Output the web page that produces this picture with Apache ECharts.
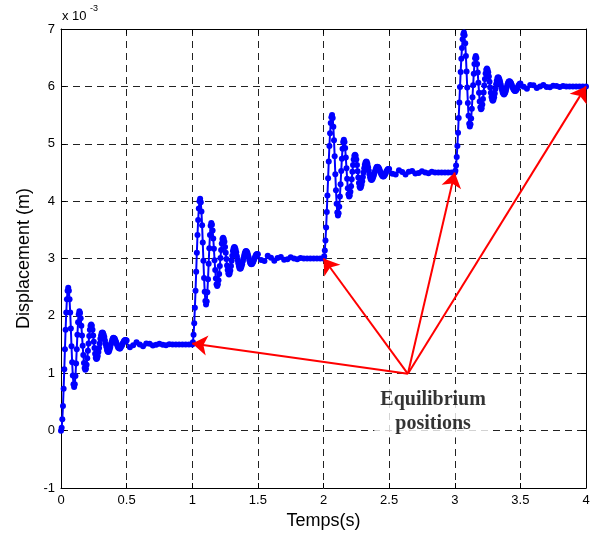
<!DOCTYPE html>
<html><head><meta charset="utf-8">
<script src="https://cdn.jsdelivr.net/npm/echarts@6/dist/echarts.min.js"></script>
<style>html,body{margin:0;padding:0;background:#fff}#c{width:602px;height:536px}</style>
</head><body><div id="c"></div>
<script>
// Displacement values in units of 1e-3 m.
// Each segment: fine samples every 0.005 s for the first 0.5 s, then tail samples every 0.025 s.
var segStarts = [0, 1, 2, 3];
var fineStep = 0.005;
var tailStep = 0.025;
var seg1Fine = [0,0.05,0.20,0.43,0.73,1.07,1.42,1.76,2.06,2.29,2.44,2.49,
2.44,2.29,2.06,1.78,1.47,1.19,0.96,0.81,0.76,
0.81,0.95,1.17,1.42,1.67,1.89,2.03,2.08,
2.05,1.96,1.83,1.66,1.48,1.32,1.18,1.09,1.06,
1.08,1.15,1.26,1.39,1.52,1.65,1.76,1.83,1.85,
1.83,1.76,1.66,1.55,1.44,1.34,1.27,1.25,
1.26,1.30,1.37,1.44,1.52,1.60,1.66,1.70,1.71,
1.70,1.67,1.63,1.57,1.51,1.46,1.41,1.38,1.37,
1.38,1.41,1.45,1.50,1.54,1.58,1.61,1.62,
1.61,1.60,1.57,1.54,1.51,1.48,1.45,1.44,1.43,
1.43,1.45,1.47,1.49,1.52,1.54,1.56,1.575,1.58,
1.575];
var seg1Tail = [1.57,1.455,1.487,1.54,1.50,1.47,1.517,1.514,1.482,1.497,1.515,1.496,1.49,1.505,1.50,1.50,1.50,1.50,1.50,1.50];
var seg2Fine = [1.5,1.54,1.67,1.87,2.14,2.44,2.77,3.10,3.41,3.67,3.87,4.00,4.04,
3.98,3.82,3.58,3.28,2.96,2.66,2.42,2.26,2.20,
2.25,2.41,2.64,2.91,3.18,3.41,3.57,3.62,
3.59,3.49,3.35,3.17,2.97,2.80,2.65,2.55,2.52,
2.55,2.62,2.73,2.87,3.01,3.15,3.26,3.34,3.36,
3.34,3.29,3.20,3.10,2.99,2.88,2.80,2.74,2.72,
2.74,2.79,2.87,2.96,3.05,3.13,3.18,3.20,
3.19,3.16,3.11,3.04,2.98,2.92,2.87,2.83,2.82,
2.83,2.86,2.90,2.95,3.00,3.05,3.09,3.12,3.13,
3.12,3.10,3.06,3.02,2.97,2.93,2.91,2.90,
2.905,2.92,2.945,2.975,3.005,3.035,3.06,3.075,3.08];
var seg2Tail = [3.075,2.975,2.956,3.046,3.013,2.96,3.008,3.024,2.98,2.989,3.02,3.0,2.987,3.01,3.0,3.0,3.0,3.0,3.0,3.0];
var seg3Fine = [3.0,3.04,3.14,3.315,3.54,3.81,4.10,4.40,4.69,4.96,5.185,5.36,5.46,5.50,
5.45,5.295,5.06,4.78,4.47,4.19,3.955,3.80,3.75,
3.79,3.90,4.08,4.295,4.525,4.74,4.915,5.03,5.07,
5.03,4.925,4.76,4.575,4.39,4.225,4.12,4.08,
4.10,4.165,4.26,4.38,4.51,4.63,4.725,4.79,4.81,
4.79,4.725,4.63,4.52,4.41,4.315,4.25,4.23,
4.245,4.285,4.345,4.42,4.50,4.575,4.635,4.675,4.69,
4.68,4.645,4.59,4.53,4.47,4.415,4.38,4.37,
4.375,4.395,4.43,4.465,4.505,4.54,4.57,4.595,4.60,
4.595,4.58,4.56,4.53,4.50,4.47,4.45,4.435,4.43,
4.435,4.45,4.47,4.495,4.52,4.54,4.555,4.56];
var seg3Tail = [4.558,4.478,4.463,4.537,4.509,4.465,4.51,4.524,4.481,4.489,4.52,4.5,4.487,4.51,4.5,4.5,4.5,4.5,4.5,4.5];
var seg4Fine = [4.5,4.53,4.62,4.77,4.96,5.19,5.45,5.72,5.99,6.25,6.48,6.67,6.82,6.91,6.94,
6.89,6.75,6.53,6.26,5.98,5.71,5.49,5.35,5.30,
5.34,5.44,5.61,5.81,6.02,6.22,6.39,6.49,6.53,
6.495,6.39,6.24,6.065,5.89,5.735,5.635,5.60,
5.62,5.685,5.78,5.895,6.015,6.13,6.225,6.29,6.31,
6.29,6.245,6.17,6.08,5.98,5.89,5.815,5.765,5.75,
5.765,5.81,5.875,5.955,6.035,6.10,6.145,6.16,
6.15,6.125,6.085,6.035,5.985,5.935,5.895,5.87,5.86,
5.87,5.895,5.93,5.975,6.02,6.055,6.08,6.09,
6.085,6.07,6.05,6.02,5.99,5.96,5.94,5.925,5.92,
5.925,5.94,5.96,5.985,6.01,6.03,6.045];
var seg4Tail = [6.05,5.994,5.958,6.023,6.019,5.972,5.998,6.023,5.989,5.985,6.013,6.005,5.99,6.005,6.0,6.0,6.0,6.0,6.0,6.0,6.0];

// Annotation arrows: common origin and equilibrium targets [t, y]
var arrowOrigin = [2.643, 0.99];
var arrowTargets = [[1.0, 1.52], [2.0, 3.0], [3.0, 4.5], [4.0, 6.0]];
var annotationPos = [2.835, 0.335];
var annotationText = 'Equilibrium\npositions';

var xTicks = {min: 0, max: 4, interval: 0.5};
var yTicks = {min: -1, max: 7, interval: 1};

var fines = [seg1Fine, seg2Fine, seg3Fine, seg4Fine];
var tails = [seg1Tail, seg2Tail, seg3Tail, seg4Tail];
var series1 = [];
for (var k = 0; k < 4; k++) {
  var s = segStarts[k];
  fines[k].forEach(function (v, i) { series1.push([+(s + i * fineStep).toFixed(4), v]); });
  tails[k].forEach(function (v, j) { series1.push([+(s + 0.5 + j * tailStep).toFixed(4), v]); });
}

var font = 'Liberation Sans, Arial, Helvetica, sans-serif';
var gridLine = {show: true, lineStyle: {color: '#222', type: [7, 5], width: 1}};
var chart = echarts.init(document.getElementById('c'), null, {renderer: 'canvas'});
chart.setOption({
  animation: false,
  backgroundColor: '#fff',
  grid: {left: 61, right: 16, top: 29, bottom: 48, outerBoundsMode: 'none', containLabel: false},
  xAxis: [{
    type: 'value', min: xTicks.min, max: xTicks.max, interval: xTicks.interval, position: 'bottom',
    axisLine: {show: true, onZero: false, lineStyle: {color: '#000', width: 1}},
    axisTick: {show: true, inside: true, length: 5, lineStyle: {color: '#000'}},
    axisLabel: {color: '#000', fontSize: 13, fontFamily: font, margin: 6},
    splitLine: gridLine,
    name: 'Temps(s)', nameLocation: 'middle', nameGap: 23,
    nameTextStyle: {fontSize: 18, color: '#000', fontFamily: font}
  }, {
    type: 'value', min: xTicks.min, max: xTicks.max, interval: xTicks.interval, position: 'top',
    axisLine: {show: true, onZero: false, lineStyle: {color: '#000', width: 1}},
    axisTick: {show: true, inside: true, length: 5, lineStyle: {color: '#000'}},
    axisLabel: {show: false}, splitLine: {show: false}
  }],
  yAxis: [{
    type: 'value', min: yTicks.min, max: yTicks.max, interval: yTicks.interval, position: 'left',
    axisLine: {show: true, onZero: false, lineStyle: {color: '#000', width: 1}},
    axisTick: {show: true, inside: true, length: 5, lineStyle: {color: '#000'}},
    axisLabel: {color: '#000', fontSize: 13, fontFamily: font, margin: 6},
    splitLine: gridLine,
    name: 'Displacement (m)', nameLocation: 'middle', nameGap: 28,
    nameTextStyle: {fontSize: 18, color: '#000', fontFamily: font}
  }, {
    type: 'value', min: yTicks.min, max: yTicks.max, interval: yTicks.interval, position: 'right',
    axisLine: {show: true, onZero: false, lineStyle: {color: '#000', width: 1}},
    axisTick: {show: true, inside: true, length: 5, lineStyle: {color: '#000'}},
    axisLabel: {show: false}, splitLine: {show: false}
  }],
  graphic: [
    {type: 'text', left: 62, top: 10, style: {text: 'x 10', fontSize: 13, fontFamily: font, fill: '#000'}},
    {type: 'text', left: 90, top: 4, style: {text: '-3', fontSize: 9, fontFamily: font, fill: '#000'}}
  ],
  series: [{
    type: 'line', xAxisIndex: 0, yAxisIndex: 0, data: series1,
    symbol: 'circle', symbolSize: 6, showSymbol: true, showAllSymbol: true,
    lineStyle: {color: '#0000ff', width: 2}, itemStyle: {color: '#0000ff'},
    silent: true, z: 3
  }, {
    type: 'line', xAxisIndex: 0, yAxisIndex: 0, data: [arrowOrigin], symbol: 'none',
    lineStyle: {width: 0}, itemStyle: {color: '#ff0000'}, silent: true, z: 4,
    markLine: {
      silent: true, symbol: ['none', 'arrow'], symbolSize: 15,
      lineStyle: {color: '#ff0000', width: 2, type: 'solid'},
      itemStyle: {color: '#ff0000'},
      label: {show: false},
      data: arrowTargets.map(function (t) { return [{coord: arrowOrigin}, {coord: t}]; })
    }
  }, {
    type: 'scatter', xAxisIndex: 0, yAxisIndex: 0, data: [annotationPos],
    symbolSize: 1, itemStyle: {color: 'rgba(0,0,0,0)'}, silent: true, z: 5,
    label: {
      show: true, position: 'inside', formatter: annotationText,
      fontFamily: 'Liberation Serif, Times New Roman, serif', fontWeight: 'bold', fontSize: 20,
      color: '#000', backgroundColor: '#fff', padding: [2, 6], lineHeight: 24, align: 'center'
    }
  }]
});
</script></body></html>
